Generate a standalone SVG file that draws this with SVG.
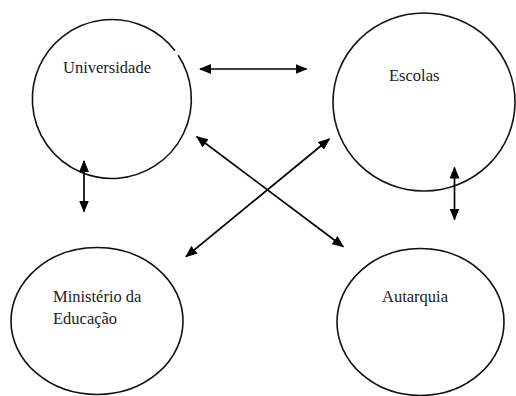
<svg xmlns="http://www.w3.org/2000/svg" width="516" height="396" viewBox="0 0 516 396">
<style>
.node{fill:none;stroke:#111;stroke-width:1.6}
.lbl{font-family:"Liberation Serif","DejaVu Serif",serif;font-size:16.5px;fill:#222}
.conn{stroke:#000;stroke-width:1.7;fill:none;marker-start:url(#ah);marker-end:url(#ah)}
</style>
<defs>
<marker id="ah" viewBox="0 0 12 10" refX="11" refY="5" markerWidth="12" markerHeight="10" markerUnits="userSpaceOnUse" orient="auto-start-reverse">
<path d="M0,0 L12,5 L0,10 z" fill="#000"/>
</marker>
</defs>
<rect width="516" height="396" fill="#fff"/>
<g id="universidade">
<path class="node" d="M178.2,55.2 A79.5,79.5 0 1 1 175.0,50.7"/>
<text class="lbl" x="63" y="73">Universidade</text>
</g>
<g id="escolas">
<ellipse class="node" cx="424" cy="102" rx="91" ry="89"/>
<text class="lbl" x="389" y="81">Escolas</text>
</g>
<g id="ministerio">
<ellipse class="node" cx="97" cy="321" rx="86" ry="73.5"/>
<text class="lbl" x="53" y="302">Ministério da</text>
<text class="lbl" x="53" y="324">Educação</text>
</g>
<g id="autarquia">
<ellipse class="node" cx="420.5" cy="322" rx="83.5" ry="73.5"/>
<text class="lbl" x="382" y="302">Autarquia</text>
</g>
<g id="connectors">
<line class="conn" x1="200" y1="69" x2="306.5" y2="69"/>
<line class="conn" x1="84" y1="161" x2="84" y2="211.5"/>
<line class="conn" x1="454.5" y1="167.5" x2="454.5" y2="219.5"/>
<line class="conn" x1="196.7" y1="136.7" x2="343.3" y2="246.7"/>
<line class="conn" x1="329.3" y1="139" x2="186" y2="256.7"/>
</g>
</svg>
